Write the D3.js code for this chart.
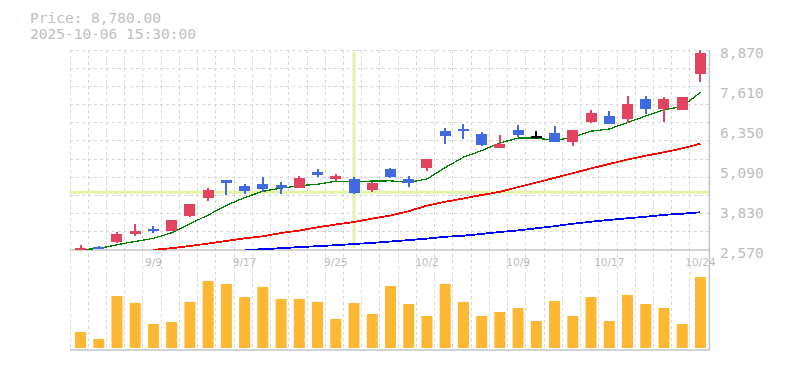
<!DOCTYPE html>
<html>
  <head>
    <meta charset="utf-8" />
    <title>Candlestick chart</title>
    <script src="https://d3js.org/d3.v7.min.js"></script>
    <style>
      body { margin: 0; background: #fff; }
    </style>
  </head>
  <body>
    <svg width="785" height="370"></svg>

    <script>
      // trading days shown on the chart
      const dates = ["9/3","9/4","9/5","9/8","9/9","9/10","9/11","9/12","9/16","9/17","9/18","9/19","9/22","9/24","9/25","9/26","9/29","9/30","10/1","10/2","10/3","10/6","10/7","10/8","10/9","10/10","10/14","10/15","10/16","10/17","10/20","10/21","10/22","10/23","10/24"];

      const opens  = [2580,2680,2820,3070,3240,3180,3650,4210,4775,4590,4660,4625,4530,5030,4815,4805,4460,5120,4805,5150,6320,6380,6220,5790,6350,6160,6260,5970,6600,6790,6700,7330,7010,6980,8110];
      const highs  = [2730,2710,3140,3390,3325,3515,4020,4530,4775,4650,4870,4710,4900,5120,4965,4870,4710,5150,4900,5440,6400,6540,6290,6190,6510,6320,6480,6350,6980,6950,7420,7420,7390,7390,8870];
      const lows   = [2570,2600,2790,3010,3105,3165,3610,4115,4300,4345,4395,4345,4525,4870,4755,4335,4405,4840,4555,5060,5910,6070,5855,5780,6120,6070,5970,5860,6570,6540,6570,6850,6600,6980,7860];
      const closes = [2640,2620,3075,3170,3180,3515,4020,4470,4680,4430,4490,4525,4840,4930,4900,4365,4680,4870,4680,5440,6160,6320,5890,5910,6190,6160,5970,6350,6890,6540,7170,7010,7330,7390,8780];
      const volumes = [1600,900,5200,4500,2400,2600,4600,6700,6400,5100,6100,4900,4900,4600,2900,4500,3400,6200,4400,3200,6400,4600,3200,3600,4000,2700,4700,3200,5100,2700,5300,4400,4000,2400,7100];

      // moving averages (null where the line is off the chart)
      const ma5  = [2575,2620,2735,2840,2937,3112,3392,3671,3973,4223,4418,4519,4593,4643,4737,4712,4743,4749,4699,4807,5166,5494,5698,5944,6094,6094,6024,6116,6312,6382,6584,6792,6988,7088,7536];
      const ma25 = [null,null,null,null,2575,2627,2696,2772,2854,2939,3002,3106,3184,3285,3373,3452,3559,3657,3792,3969,4088,4192,4303,4403,4550,4695,4843,4990,5140,5280,5420,5540,5650,5770,5921];
      const ma75 = [null,null,null,null,null,null,null,null,null,2572,2595,2627,2661,2690,2721,2759,2794,2838,2882,2929,2986,3020,3077,3137,3187,3254,3320,3398,3461,3518,3569,3619,3676,3713,3758];

      const yTicks = [8870,7610,6350,5090,3830,2570];
      const xTickLabels = ["9/9","9/17","9/25","10/2","10/9","10/17","10/24"];

      const crossDate = "9/26";
      const crossPrice = 4390;
      const headerLines = ["Price: 8,780.00", "2025-10-06 15:30:00"];

      const svg = d3.select("svg");

      const plotLeft = 70, plotRight = 708.2, plotTop = 50, priceBottom = 250;
      const volBottom = 348, volTop = 277, panelBottom = 350;

      const x = d3.scaleBand().domain(dates).range([plotLeft, plotRight]).padding(0);
      const y = d3.scaleLinear().domain([d3.min(lows), d3.max(highs)]).range([priceBottom, plotTop]);
      const yv = d3.scaleLinear().domain([0, d3.max(volumes)]).range([volBottom, volTop]);
      const cx = d => x(d) + 10.5;

      const upColor = "#e2435f", downColor = "#4169e1";
      const candleColor = i => closes[i] > opens[i] ? upColor : (closes[i] < opens[i] ? downColor : "#000");

      // grid
      const grid = svg.append("g")
        .attr("stroke", "#d6d6d6")
        .attr("stroke-dasharray", "3,3")
        .attr("shape-rendering", "crispEdges");

      grid.selectAll("line.h")
        .data(d3.range(11))
        .enter()
        .append("line")
        .attr("x1", plotLeft).attr("x2", plotRight + 1)
        .attr("y1", k => plotTop + k * (priceBottom - plotTop) / 11)
        .attr("y2", k => plotTop + k * (priceBottom - plotTop) / 11);

      grid.selectAll("line.v")
        .data(dates)
        .enter()
        .append("line")
        .attr("x1", d => x(d)).attr("x2", d => x(d))
        .attr("y1", plotTop).attr("y2", panelBottom);

      // crosshair
      svg.append("line")
        .attr("x1", cx(crossDate)).attr("x2", cx(crossDate))
        .attr("y1", plotTop + 2).attr("y2", priceBottom - 2)
        .attr("stroke", "#e3f4a6").attr("stroke-width", 3);
      svg.append("line")
        .attr("x1", plotLeft).attr("x2", plotRight + 2)
        .attr("y1", y(crossPrice)).attr("y2", y(crossPrice))
        .attr("stroke", "#e3f4a6").attr("stroke-width", 3);

      // panel borders
      const border = svg.append("g").attr("stroke", "#c4c4c4").attr("stroke-width", 1.5);
      border.append("line").attr("x1", plotLeft).attr("x2", plotRight + 2).attr("y1", priceBottom).attr("y2", priceBottom);
      border.append("line").attr("x1", plotLeft).attr("x2", plotRight + 2).attr("y1", panelBottom).attr("y2", panelBottom);
      border.append("line").attr("x1", plotRight + 1.2).attr("x2", plotRight + 1.2).attr("y1", plotTop).attr("y2", panelBottom);

      // moving average lines, clipped to the price panel
      svg.append("clipPath").attr("id", "priceClip")
        .append("rect").attr("x", plotLeft).attr("y", plotTop - 2).attr("width", plotRight - plotLeft + 1).attr("height", priceBottom - plotTop + 2);

      const maLine = d3.line()
        .defined(d => d != null)
        .x((d, i) => cx(dates[i]))
        .y(d => y(d));

      [[ma75, "#0000ff", 1.8], [ma25, "#ff0000", 1.8], [ma5, "#008000", 1.3]].forEach(([vals, color, w]) => {
        svg.append("path")
          .datum(vals)
          .attr("clip-path", "url(#priceClip)")
          .attr("d", maLine)
          .attr("fill", "none")
          .attr("stroke", color)
          .attr("stroke-width", w)
          .attr("shape-rendering", "crispEdges");
      });

      // candles
      const candles = svg.selectAll("g.candle")
        .data(dates)
        .enter()
        .append("g")
        .attr("shape-rendering", "crispEdges");

      candles.append("rect")
        .attr("x", d => cx(d) - 1)
        .attr("width", 2)
        .attr("y", (d, i) => y(highs[i]))
        .attr("height", (d, i) => y(lows[i]) - y(highs[i]))
        .attr("fill", (d, i) => candleColor(i));

      candles.append("rect")
        .attr("x", d => x(d) + 5)
        .attr("width", 11)
        .attr("y", (d, i) => y(Math.max(opens[i], closes[i])))
        .attr("height", (d, i) => Math.max(2, Math.abs(y(opens[i]) - y(closes[i]))))
        .attr("fill", (d, i) => candleColor(i));

      // volume bars
      svg.selectAll("rect.vol")
        .data(volumes)
        .enter()
        .append("rect")
        .attr("x", (v, i) => x(dates[i]) + 5)
        .attr("width", 11)
        .attr("y", v => yv(v))
        .attr("height", v => volBottom - yv(v))
        .attr("fill", "#fdb733");

      // price labels
      svg.selectAll("text.ytick")
        .data(yTicks)
        .enter()
        .append("text")
        .text(d => d3.format(",")(d))
        .attr("x", 720)
        .attr("y", d => y(d) + 7.5)
        .style("font-family", "'DejaVu Sans Mono', monospace")
        .style("font-size", "14.5px")
        .style("fill", "#bdbdbd");

      // date labels
      svg.selectAll("text.xtick")
        .data(xTickLabels)
        .enter()
        .append("text")
        .text(d => d)
        .attr("x", d => cx(d))
        .attr("y", 265.5)
        .attr("text-anchor", "middle")
        .style("font-family", "'DejaVu Sans', sans-serif")
        .style("font-size", "10.5px")
        .style("fill", "#bcbcbc");

      // header
      svg.selectAll("text.header")
        .data(headerLines)
        .enter()
        .append("text")
        .text(d => d)
        .attr("x", 30)
        .attr("y", (d, i) => 22.5 + i * 16)
        .style("font-family", "'DejaVu Sans Mono', monospace")
        .style("font-size", "14.5px")
        .style("fill", "#c0c0c0");
    </script>
  </body>
</html>
